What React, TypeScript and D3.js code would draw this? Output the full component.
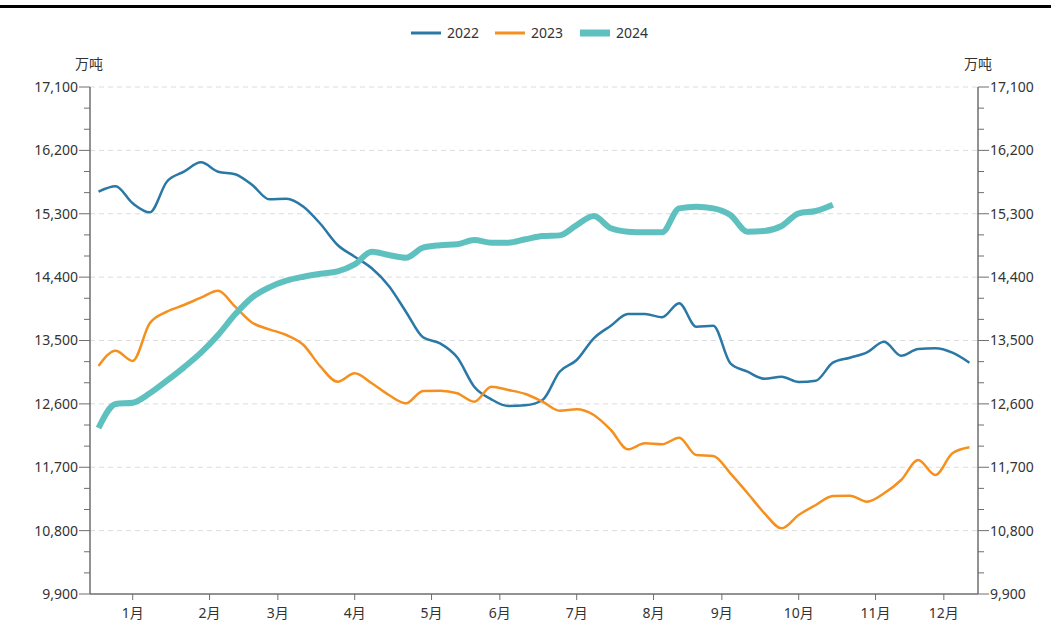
import React from "react";
import * as d3 from "d3";

const W = 1051;
const H = 637;

const monthLabels = ["1月", "2月", "3月", "4月", "5月", "6月", "7月", "8月", "9月", "10月", "11月", "12月"];
// tick positions on the week axis (in week-band units)
const monthTickWeeks = [2.5, 7, 11, 15.5, 20, 24, 28.5, 33, 37, 41.5, 46, 50];
const weekCount = 52;

const yTicksMajor = [9900, 10800, 11700, 12600, 13500, 14400, 15300, 16200, 17100];

const series2022 = [
  15613, 15690, 15448, 15320, 15755, 15897, 16030, 15897, 15860, 15708,
  15505, 15513, 15400, 15154, 14856, 14690, 14525, 14274, 13909, 13545,
  13460, 13261, 12844, 12665, 12570, 12580, 12655, 13057, 13223, 13531,
  13710, 13876, 13876, 13830, 14028, 13696, 13710, 13176, 13057, 12957,
  12986, 12911, 12929, 13185, 13256, 13332, 13483, 13284, 13379, 13389,
  13327, 13185,
];
const series2023 = [
  13138, 13355, 13209, 13744, 13909, 14004, 14108, 14207, 13980, 13753,
  13659, 13578, 13436, 13128, 12915, 13034, 12892, 12726, 12608, 12783,
  12787, 12750, 12631, 12844, 12797, 12740, 12631, 12503, 12523, 12442,
  12229, 11955, 12040, 12026, 12120, 11874, 11860, 11614, 11334, 11046,
  10833, 11022, 11164, 11292, 11296, 11211, 11330, 11519, 11803, 11590,
  11898, 11983,
];
const series2024 = [
  12257, 12598, 12617, 12750, 12929, 13119, 13327, 13578, 13872, 14113,
  14255, 14349, 14406, 14449, 14483, 14582, 14761, 14714, 14676, 14818,
  14852, 14866, 14927, 14889, 14889, 14937, 14983, 14993, 15140, 15268,
  15093, 15045, 15036, 15036, 15377, 15400, 15377, 15282, 15045, 15055,
  15126, 15306, 15339, 15428,
];

const seriesList = [
  { name: "2022", values: series2022, color: "#2a78a6", width: 2.5 },
  { name: "2023", values: series2023, color: "#f5901e", width: 2.5 },
  { name: "2024", values: series2024, color: "#5fc1bf", width: 6 },
];

const FONT = "'Noto Sans', 'Noto Sans CJK SC', sans-serif";

export default function App() {
  const left = 90;
  const right = 978;
  const top = 87;
  const bottom = 594;

  const x = d3.scaleLinear().domain([0, weekCount]).range([left, right]);
  const y = d3.scaleLinear().domain([9900, 17100]).range([bottom, top]);

  const minorTicks = d3.range(9900, 17100 + 1, 300).filter((v) => !yTicksMajor.includes(v));

  const line = d3
    .line<number>()
    .x((_, i) => x(i + 0.5))
    .y((v) => y(v))
    .curve(d3.curveMonotoneX);

  const fmt = d3.format(",");

  const legendX = [411, 495, 580];

  return (
    <svg width={W} height={H} style={{ display: "block", position: "absolute", left: 0, top: 0 }} fontFamily={FONT}>
      <rect x={0} y={5} width={W} height={3} fill="#000" />

      {/* legend */}
      {seriesList.map((s, k) => (
        <g key={s.name}>
          <line x1={legendX[k]} x2={legendX[k] + 30} y1={33} y2={33} stroke={s.color} strokeWidth={s.name === "2024" ? 7 : 3} />
          <text x={legendX[k] + 36} y={33} dy="0.35em" fontSize={14} fill="#333">{s.name}</text>
        </g>
      ))}

      {/* unit labels */}
      <text x={89} y={64} dy="0.35em" fontSize={14} fill="#333" textAnchor="middle">万吨</text>
      <text x={978} y={64} dy="0.35em" fontSize={14} fill="#333" textAnchor="middle">万吨</text>

      {/* grid */}
      {yTicksMajor.filter((v) => v !== 9900).map((v) => (
        <line key={"g" + v} x1={left} x2={right} y1={y(v)} y2={y(v)} stroke="#dcdcdc" strokeDasharray="5,4" />
      ))}

      {/* left axis */}
      <line x1={left} x2={left} y1={top} y2={bottom} stroke="#6e6e6e" strokeWidth={1.5} />
      {yTicksMajor.map((v) => (
        <g key={"l" + v}>
          <line x1={left - 11} x2={left} y1={y(v)} y2={y(v)} stroke="#6e6e6e" />
          <text x={left - 12} y={y(v)} dy="0.35em" textAnchor="end" fontSize={14} fill="#333">{fmt(v)}</text>
        </g>
      ))}
      {minorTicks.map((v) => (
        <line key={"lm" + v} x1={left - 6} x2={left} y1={y(v)} y2={y(v)} stroke="#6e6e6e" />
      ))}

      {/* right axis */}
      <line x1={right} x2={right} y1={top} y2={bottom} stroke="#6e6e6e" strokeWidth={1.5} />
      {yTicksMajor.map((v) => (
        <g key={"r" + v}>
          <line x1={right} x2={right + 11} y1={y(v)} y2={y(v)} stroke="#6e6e6e" />
          <text x={right + 12} y={y(v)} dy="0.35em" textAnchor="start" fontSize={14} fill="#333">{fmt(v)}</text>
        </g>
      ))}
      {minorTicks.map((v) => (
        <line key={"rm" + v} x1={right} x2={right + 6} y1={y(v)} y2={y(v)} stroke="#6e6e6e" />
      ))}

      {/* x axis */}
      <line x1={left} x2={right} y1={bottom} y2={bottom} stroke="#6e6e6e" strokeWidth={1.5} />
      {monthTickWeeks.map((w, i) => (
        <g key={"x" + i}>
          <line x1={x(w)} x2={x(w)} y1={bottom} y2={bottom + 6} stroke="#6e6e6e" />
          <text x={x(w)} y={bottom + 19} dy="0.35em" textAnchor="middle" fontSize={14} fill="#333">{monthLabels[i]}</text>
        </g>
      ))}

      {/* series */}
      {seriesList.map((s) => (
        <path key={s.name} d={line(s.values) || ""} fill="none" stroke={s.color} strokeWidth={s.width} strokeLinejoin="round" strokeLinecap="butt" />
      ))}
    </svg>
  );
}
